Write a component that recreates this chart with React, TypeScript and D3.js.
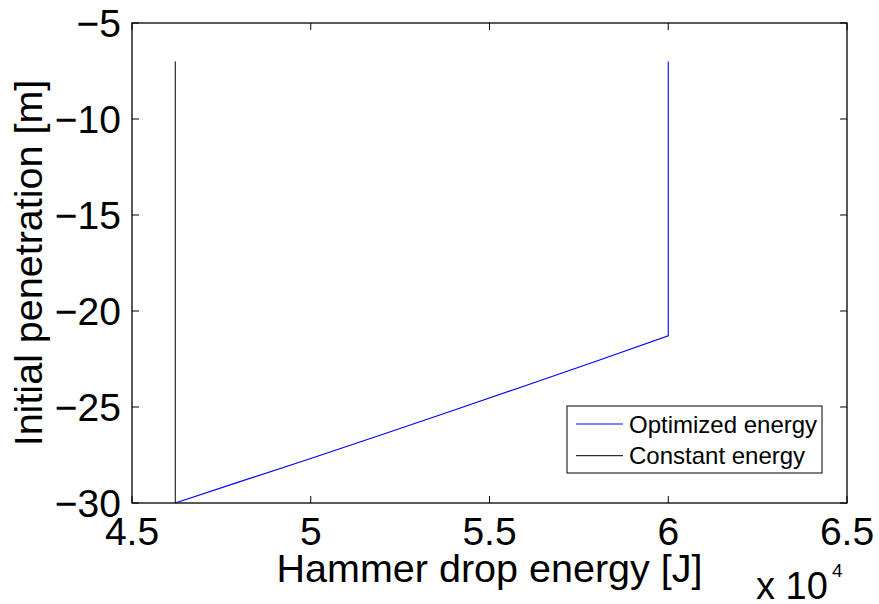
import React from 'react'
import * as d3 from 'd3'

// energy [J] vs initial penetration [m]
const optEnergy = [60000, 60000, 58000, 56000, 54000, 52000, 50000, 48000, 46210]
const optDepth = [-7, -21.29, -22.6, -23.89, -25.17, -26.43, -27.68, -28.9, -30]
const constEnergy = [46210, 46210]
const constDepth = [-7, -30]

const xTicks = [45000, 50000, 55000, 60000, 65000]
const xTickLabels = ['4.5', '5', '5.5', '6', '6.5']
const yTicks = [-30, -25, -20, -15, -10, -5]
const yTickLabels = ['\u221230', '\u221225', '\u221220', '\u221215', '\u221210', '\u22125']
const legendNames = ['Optimized energy', 'Constant energy']
const legendColors = ['#0000ff', '#000000']

const W = 879
const H = 604
const left = 132
const right = 847
const top = 23
const bottom = 503
const font = '"Liberation Sans", Arial, Helvetica, sans-serif'

const App = () => {
  const x = d3.scaleLinear().domain([45000, 65000]).range([left, right])
  const y = d3.scaleLinear().domain([-30, -5]).range([bottom, top])

  const line = d3.line<[number, number]>()
    .x(d => x(d[0]))
    .y(d => y(d[1]))

  const optPath = line(optEnergy.map((e, i) => [e, optDepth[i]]))
  const constPath = line(constEnergy.map((e, i) => [e, constDepth[i]]))
  const tickLen = 7

  return (
    <svg width={W} height={H} style={{position: 'absolute', left: 0, top: 0, background: '#fff'}}
      fontFamily={font}>
      <rect x={0} y={0} width={W} height={H} fill='#fff' />

      {/* data */}
      <path d={constPath || ''} fill='none' stroke='#000' strokeWidth={1} />
      <path d={optPath || ''} fill='none' stroke='#0000ff' strokeWidth={1.1} />

      {/* box */}
      <rect x={left} y={top} width={right - left} height={bottom - top}
        fill='none' stroke='#000' strokeWidth={1.3} />

      {/* x ticks */}
      {xTicks.map((t, i) => (
        <g key={'x' + t}>
          <line x1={x(t)} x2={x(t)} y1={bottom} y2={bottom - tickLen} stroke='#000' />
          <line x1={x(t)} x2={x(t)} y1={top} y2={top + tickLen} stroke='#000' />
          <text x={x(t)} y={545} textAnchor='middle' fontSize={39}>{xTickLabels[i]}</text>
        </g>
      ))}

      {/* y ticks */}
      {yTicks.map((t, i) => (
        <g key={'y' + t}>
          <line x1={left} x2={left + tickLen} y1={y(t)} y2={y(t)} stroke='#000' />
          <line x1={right} x2={right - tickLen} y1={y(t)} y2={y(t)} stroke='#000' />
          <text x={121} y={y(t)} dy='0.36em' textAnchor='end' fontSize={39}>{yTickLabels[i]}</text>
        </g>
      ))}

      {/* labels */}
      <text x={(left + right) / 2} y={582} textAnchor='middle' fontSize={39.5}>Hammer drop energy [J]</text>
      <text transform={`translate(42,${(top + bottom) / 2}) rotate(-90)`} textAnchor='middle' fontSize={39.5}>
        Initial penetration [m]
      </text>
      <text x={756} y={599} fontSize={38}>x 10</text>
      <text x={832} y={577} fontSize={19}>4</text>

      {/* legend */}
      <rect x={567} y={406} width={255} height={67} fill='#fff' stroke='#000' strokeWidth={1} />
      {legendNames.map((n, i) => (
        <g key={n}>
          <line x1={576} x2={623} y1={424 + i * 31.7} y2={424 + i * 31.7} stroke={legendColors[i]} strokeWidth={1} />
          <text x={629} y={433 + i * 30.5} fontSize={24}>{n}</text>
        </g>
      ))}
    </svg>
  )
}

export default App
